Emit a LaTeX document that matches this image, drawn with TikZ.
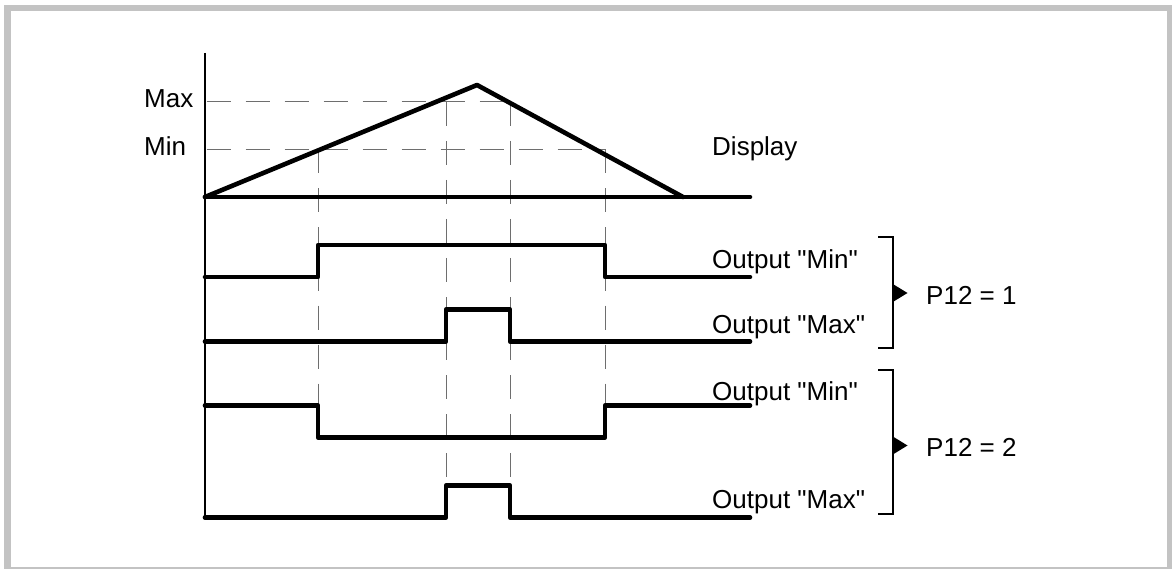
\documentclass[tikz,border=0pt]{standalone}
\usepackage{fontspec}
\setmainfont{Liberation Sans}
\usepackage{xcolor}
\usepackage{tikz}
\usetikzlibrary{math}
\definecolor{framegray}{HTML}{C3C3C3}
\definecolor{dashgray}{HTML}{6E6E6E}

\begin{document}
\begin{tikzpicture}[x=1pt,y=-1pt,font=\fontsize{26}{31}\selectfont,
	sig/.style={line width=4.6pt,line cap=round,line join=round},
	guide/.style={draw=dashgray,line width=1pt,dash pattern=on 24pt off 15pt},
	lbl/.style={anchor=base west,inner sep=0pt}]
\useasboundingbox (0,0) rectangle (1172,569);
\draw[framegray,line width=6.5pt] (7.5,8) rectangle (1170,570);
\tikzmath{
	\ox = 205;\oy = 197;\xe = 750;
	\ymax = 102;\ymin = 149.5;
	\xa = 318;\xb = 446;\xc = 510;\xd = 605;
	\amp = 32;
	\ya = 277;\yb = 341.5;\yc = 437.5;\yd = 517.5;
	\yah = \ya-\amp;\ybh = \yb-\amp;\ych = \yc-\amp;\ydh = \yd-\amp;
	{\coordinate (top) at (\ox,53);};
	{\coordinate (o) at (\ox,\oy);};
	{\coordinate (e) at (\xe,\oy);};
	{\coordinate (p) at (477,85);};
	{\coordinate (q) at (683,\oy);};
	{\coordinate (bot) at (\ox,\yd);};
	%
	{\draw[guide] plot[] coordinates {(\ox+1.5,\ymax) (\xc,\ymax)};};
	{\draw[guide] plot[] coordinates {(\ox+1.5,\ymin) (\xd,\ymin)};};
	{\draw[guide] plot[] coordinates {(\xa,\ymin) (\xa,\ych)};};
	{\draw[guide] plot[] coordinates {(\xd,\ymin) (\xd,\ych)};};
	{\draw[guide] plot[] coordinates {(\xb,\ymax) (\xb,\ydh)};};
	{\draw[guide] plot[] coordinates {(\xc,\ymax) (\xc,\ydh)};};
	%
	{\draw[line width=2.5pt] plot[] coordinates {(top) (bot)};};
	{\draw[sig] plot[] coordinates {(o) (e)};};
	{\draw[sig] plot[] coordinates {(o) (p) (q)};};
	%
	{\draw[sig] plot[] coordinates {(\ox,\ya) (\xa,\ya) (\xa,\yah) (\xd,\yah) (\xd,\ya) (\xe,\ya)};};
	{\draw[sig] plot[] coordinates {(\ox,\yb) (\xb,\yb) (\xb,\ybh) (\xc,\ybh) (\xc,\yb) (\xe,\yb)};};
	{\draw[sig] plot[] coordinates {(\ox,\ych) (\xa,\ych) (\xa,\yc) (\xd,\yc) (\xd,\ych) (\xe,\ych)};};
	{\draw[sig] plot[] coordinates {(\ox,\yd) (\xb,\yd) (\xb,\ydh) (\xc,\ydh) (\xc,\yd) (\xe,\yd)};};
	%
	{\node[lbl] (tmax) at (144,108) {Max};};
	{\node[lbl] (tmin) at (144,156) {Min};};
	{\node[lbl] (tdisp) at (712,156) {Display};};
	{\node[lbl] (tmina) at (712,269) {Output \textquotedbl Min\textquotedbl};};
	{\node[lbl] (tmaxa) at (712,333) {Output \textquotedbl Max\textquotedbl};};
	{\node[lbl] (tminb) at (712,400) {Output \textquotedbl Min\textquotedbl};};
	{\node[lbl] (tmaxb) at (712,508) {Output \textquotedbl Max\textquotedbl};};
	%
	{\draw[line width=2pt] plot[] coordinates {(878,236.7) (893,236.7) (893,347.7) (878,347.7)};};
	{\fill plot[] coordinates {(892,283.5) (907.5,293) (892,302.5)} -- cycle;};
	{\draw[line width=2pt] plot[] coordinates {(878,370) (893,370) (893,514) (878,514)};};
	{\fill plot[] coordinates {(892,436) (907.5,445.5) (892,455)} -- cycle;};
	{\node[lbl] (pa) at (926,305) {P12 = 1};};
	{\node[lbl] (pb) at (926,456.5) {P12 = 2};};
};
\end{tikzpicture}
\end{document}
